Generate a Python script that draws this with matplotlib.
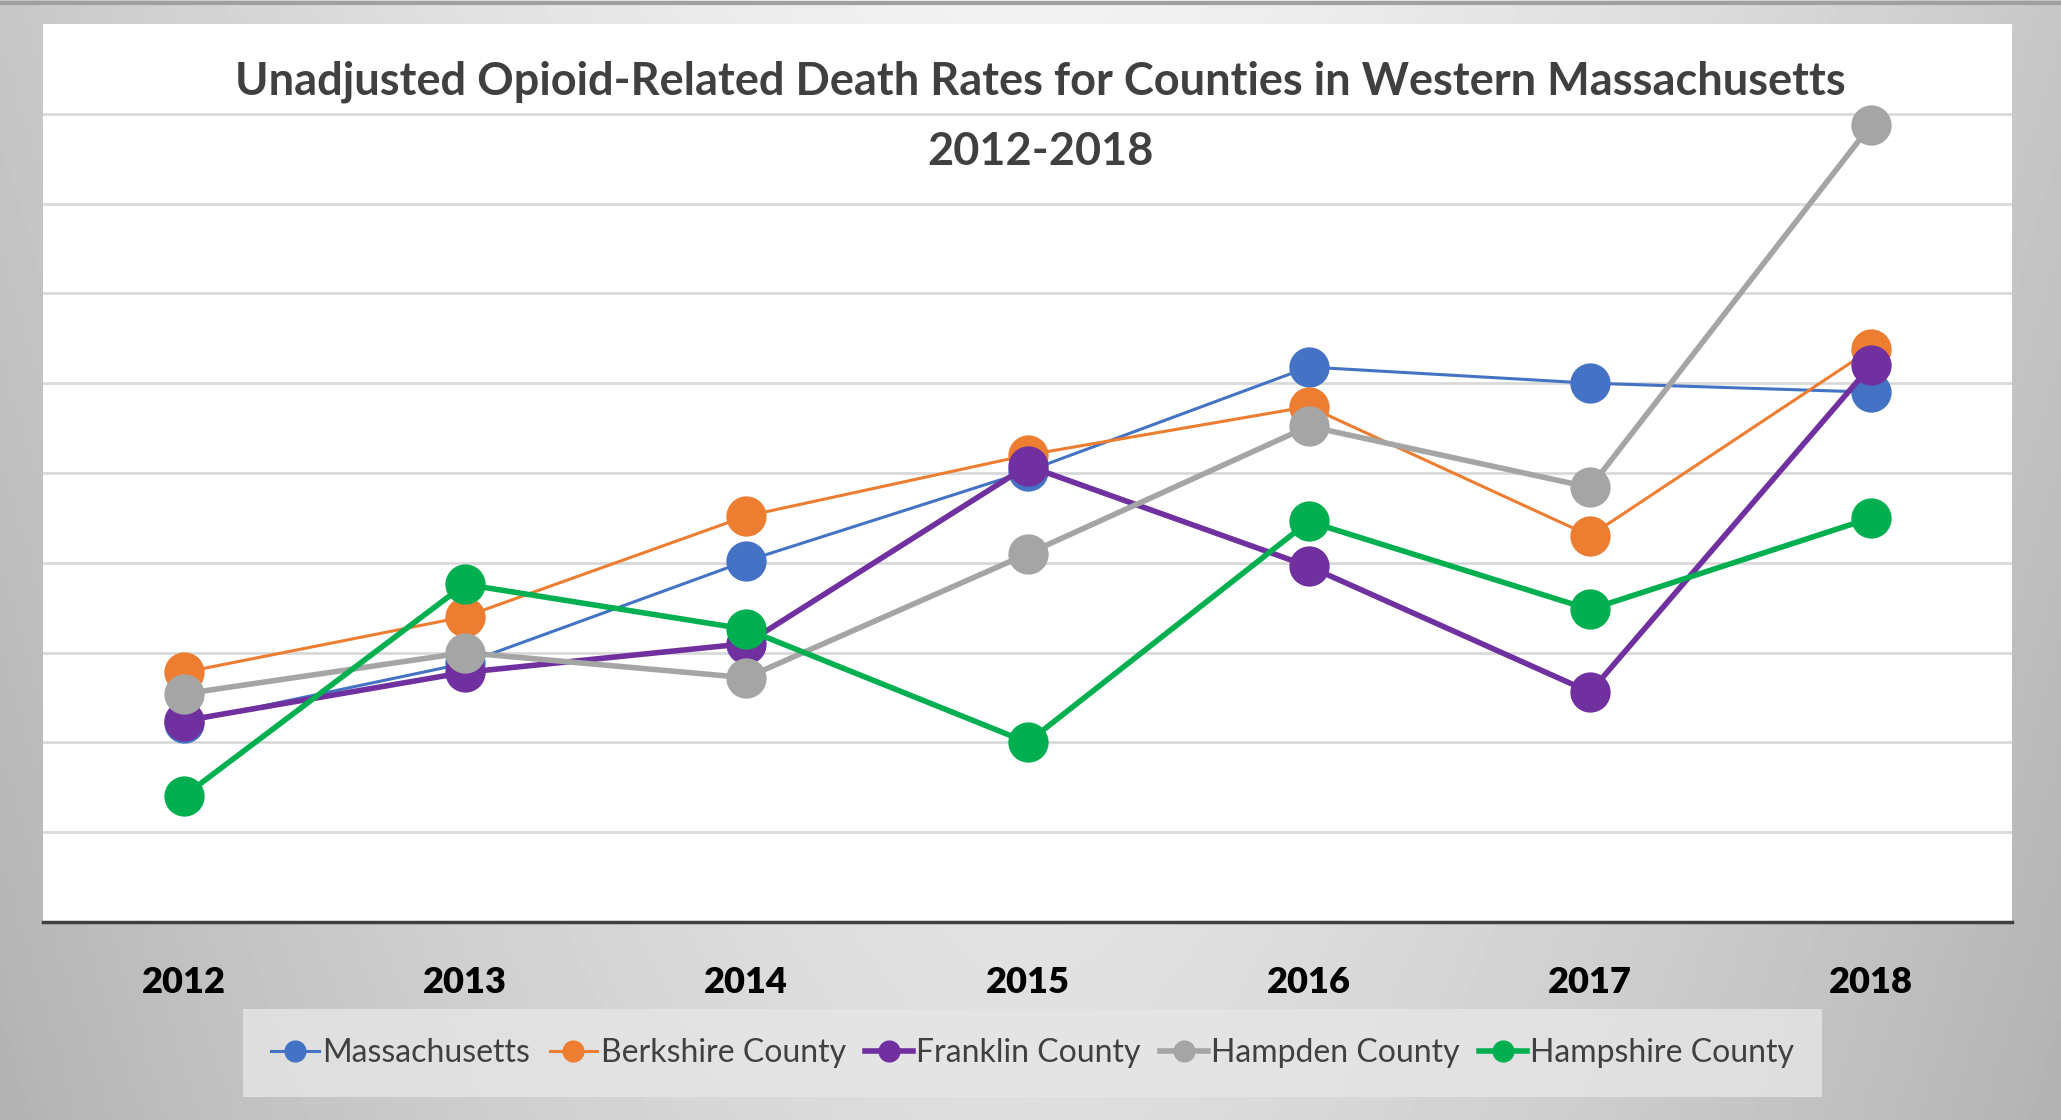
import matplotlib
matplotlib.use('Agg')
import matplotlib.pyplot as plt
import numpy as np

# Données (taux pour 100 000 habitants)
years = ['2012', '2013', '2014', '2015', '2016', '2017', '2018']
massachusetts = [11.1, 14.4, 20.1, 25.1, 30.9, 30.0, 29.5]
berkshire = [13.9, 17.0, 22.6, 26.0, 28.7, 21.5, 31.9]
franklin = [11.2, 13.9, 15.5, 25.4, 19.8, 12.8, 31.0]
hampden = [12.7, 15.0, 13.6, 20.5, 27.6, 24.2, 44.4]
hampshire = [7.0, 18.8, 16.3, 10.0, 22.3, 17.4, 22.5]

series = [
    ('Massachusetts', massachusetts, '#4472C4', 2.2),
    ('Berkshire County', berkshire, '#ED7D31', 2.2),
    ('Franklin County', franklin, '#7030A0', 4.0),
    ('Hampden County', hampden, '#A5A5A5', 4.0),
    ('Hampshire County', hampshire, '#00B050', 4.0),
]

plt.rcParams['font.family'] = ['Lato', 'DejaVu Sans']

fig = plt.figure(figsize=(20.61, 11.2), dpi=100)

# Fond gris en dégradé
bg = fig.add_axes([0, 0, 1, 1])
gx, gy = np.meshgrid(np.linspace(-1, 1, 400), np.linspace(0, 1, 200))
grad = 0.95 - 0.17 * np.abs(gx) ** 1.5 - 0.08 * gy
bg.imshow(grad, cmap='gray', vmin=0, vmax=1, aspect='auto', extent=[0, 1, 0, 1])
bg.plot([0, 1], [0.997, 0.997], color='#a0a0a0', linewidth=3)
bg.set_xlim(0, 1)
bg.set_ylim(0, 1)
bg.axis('off')

# Zone du graphique
ax = fig.add_axes([0.0209, 0.1768, 0.9553, 0.8018])
ax.set_facecolor('white')
x = np.arange(len(years))
for name, vals, color, lw in series:
    ax.plot(x, vals, color=color, linewidth=lw, marker='o', markersize=29,
            markeredgewidth=0, label=name)

ax.set_xlim(-0.5, len(years) - 0.5)
ax.set_ylim(0, 50)
ax.set_yticks(np.arange(5, 50, 5))
ax.yaxis.grid(True, color='#d9d9d9', linewidth=2)
ax.set_axisbelow(True)
ax.tick_params(axis='y', left=False, labelleft=False)
ax.tick_params(axis='x', bottom=False, pad=28)
ax.set_xticks(x)
ax.set_xticklabels(years, fontsize=26, fontweight='heavy', color='black')
for side in ['top', 'left', 'right']:
    ax.spines[side].set_visible(False)
ax.spines['bottom'].set_color('#404040')
ax.spines['bottom'].set_linewidth(2.5)

fig.text(0.505, 0.927, 'Unadjusted Opioid-Related Death Rates for Counties in Western Massachusetts',
         ha='center', va='center', fontsize=32.5, fontweight='bold', color='#404040')
fig.text(0.505, 0.864, '2012-2018', ha='center', va='center', fontsize=32.5,
         fontweight='bold', color='#404040')

leg = fig.legend(loc='center', bbox_to_anchor=(0.501, 0.0598), ncol=5, fontsize=23,
                 frameon=True, fancybox=False, handlelength=1.5, handletextpad=0.1,
                 columnspacing=0.6, borderpad=0.9, markerscale=0.55)
leg.get_frame().set_facecolor('#e6e6e6')
leg.get_frame().set_edgecolor('none')
for t in leg.get_texts():
    t.set_color('#404040')

fig.savefig('out.png', dpi=100)
